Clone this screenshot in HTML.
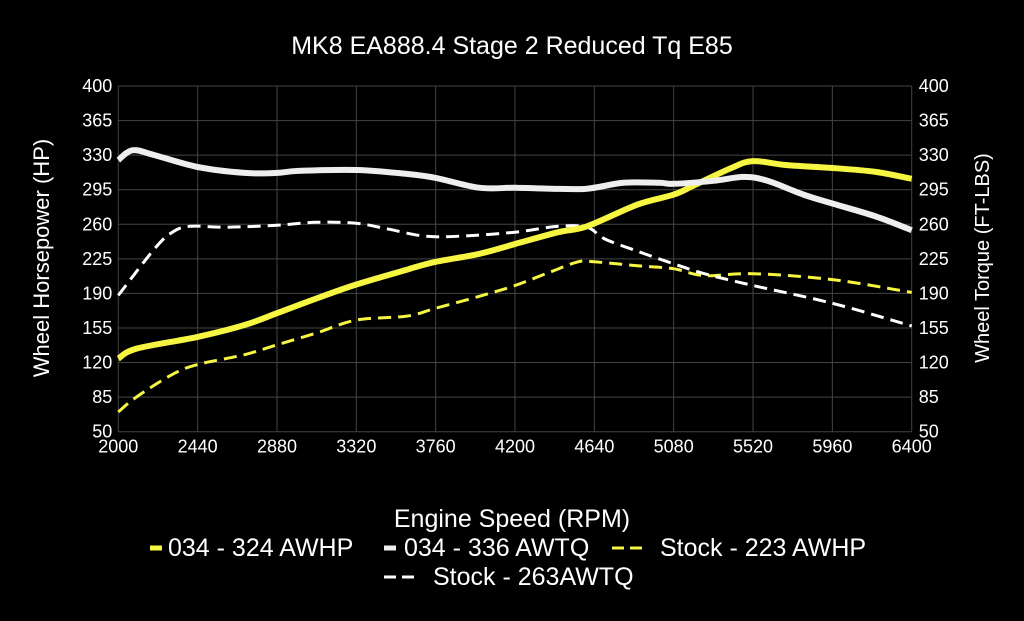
<!DOCTYPE html>
<html><head><meta charset="utf-8"><style>
html,body{margin:0;padding:0;background:#000;}
svg{display:block;font-family:"Liberation Sans",Arial,sans-serif;}
</style></head><body>
<svg id="s" width="1024" height="621" viewBox="0 0 1024 621" xmlns="http://www.w3.org/2000/svg">
<rect width="1024" height="621" fill="#000"/>
<text x="512" y="54" fill="#fff" font-size="25" text-anchor="middle">MK8 EA888.4 Stage 2 Reduced Tq E85</text>
<g id="grid" stroke="#444" stroke-width="1"></g>
<g id="ticks" fill="#fff" font-size="18"></g>
<text transform="translate(49,258) rotate(-90)" fill="#fff" font-size="22" text-anchor="middle">Wheel Horsepower (HP)</text>
<text transform="translate(989,258) rotate(-90)" fill="#fff" font-size="20" text-anchor="middle">Wheel Torque (FT-LBS)</text>
<text x="512" y="527" fill="#fff" font-size="25" text-anchor="middle">Engine Speed (RPM)</text>
<g id="lines" fill="none" stroke-linecap="butt" stroke-linejoin="round"></g>
<g font-size="25" fill="#fff">
<line x1="150" y1="548" x2="162" y2="548" stroke="#f5f542" stroke-width="5"/>
<text x="168" y="556">034 - 324 AWHP</text>
<line x1="384" y1="548" x2="396" y2="548" stroke="#eee" stroke-width="5"/>
<text x="404" y="556">034 - 336 AWTQ</text>
<line x1="612" y1="548" x2="624" y2="548" stroke="#f5f542" stroke-width="3"/>
<line x1="630" y1="548" x2="642" y2="548" stroke="#f5f542" stroke-width="3"/>
<text x="660" y="556">Stock - 223 AWHP</text>
<line x1="384" y1="577" x2="396" y2="577" stroke="#fff" stroke-width="3"/>
<line x1="402" y1="577" x2="414" y2="577" stroke="#fff" stroke-width="3"/>
<text x="433" y="585">Stock - 263AWTQ</text>
</g>
</svg>
<script>
var L=118.3,R=911.7,T=86,B=431.7,NS="http://www.w3.org/2000/svg";
function X(r){return L+(r-2000)/4400*(R-L);}
function Y(v){return B-(v-50)/350*(B-T);}
function el(p,t,a,txt){var e=document.createElementNS(NS,t);for(var k in a)e.setAttribute(k,a[k]);if(txt)e.textContent=txt;p.appendChild(e);return e;}
var g=document.getElementById('grid'),tk=document.getElementById('ticks');
for(var i=0;i<=10;i++){var v=50+35*i,y=Y(v);el(g,'line',{x1:L,x2:R,y1:y,y2:y});
el(tk,'text',{x:L-6,y:y+6,'text-anchor':'end'},String(v));el(tk,'text',{x:R+7,y:y+6},String(v));
var r=2000+440*i,x=X(r);el(g,'line',{x1:x,x2:x,y1:T,y2:B});el(tk,'text',{x:x,y:B+21,'text-anchor':'middle'},String(r));}
function path(d){var p=d.map(function(a){return [X(a[0]),Y(a[1])]});var s='M'+p[0][0].toFixed(1)+','+p[0][1].toFixed(1);
for(var i=0;i<p.length-1;i++){var p0=p[i-1]||p[i],p1=p[i],p2=p[i+1],p3=p[i+2]||p2;
s+=' C'+(p1[0]+(p2[0]-p0[0])/6).toFixed(1)+','+(p1[1]+(p2[1]-p0[1])/6).toFixed(1)+' '+(p2[0]-(p3[0]-p1[0])/6).toFixed(1)+','+(p2[1]-(p3[1]-p1[1])/6).toFixed(1)+' '+p2[0].toFixed(1)+','+p2[1].toFixed(1);}return s;}
var ln=document.getElementById('lines');
var yd=[[2000,70],[2100,85],[2300,108],[2440,118],[2700,128],[2880,138],[3100,150],[3320,163],[3600,167],[3760,175],[4000,187],[4200,198],[4400,212],[4550,222],[4640,222],[4880,218],[5080,215],[5250,208],[5520,210],[5960,204],[6400,191]];
var wd=[[2000,188],[2200,235],[2300,252],[2400,258],[2600,257],[2880,259],[3100,262],[3320,261],[3500,255],[3700,248],[3900,248],[4200,252],[4440,258],[4600,257],[4700,245],[4890,232],[5080,220],[5250,210],[5520,198],[5960,180],[6400,157]];
var ys=[[2000,124],[2100,134],[2440,146],[2700,158],[2880,170],[3100,185],[3320,199],[3600,214],[3760,222],[4000,230],[4200,240],[4440,252],[4600,258],[4880,280],[5080,290],[5200,300],[5400,317],[5520,324],[5700,320],[5960,317],[6200,313],[6400,306]];
var ws=[[2000,325],[2080,335],[2200,330],[2440,318],[2700,312],[2880,312],[3000,314],[3320,315],[3600,311],[3760,307],[4000,297],[4200,297],[4400,296],[4600,296],[4800,302],[5000,302],[5080,301],[5300,304],[5470,308],[5600,304],[5800,290],[5960,281],[6200,268],[6400,254]];
el(ln,'path',{d:path(yd),stroke:'#f5f542','stroke-width':3,'stroke-dasharray':'13 7'});
el(ln,'path',{d:path(wd),stroke:'#fff','stroke-width':3,'stroke-dasharray':'13 7'});
el(ln,'path',{d:path(ys),stroke:'#f5f542','stroke-width':6});
el(ln,'path',{d:path(ws),stroke:'#eee','stroke-width':6});
</script>
</body></html>
